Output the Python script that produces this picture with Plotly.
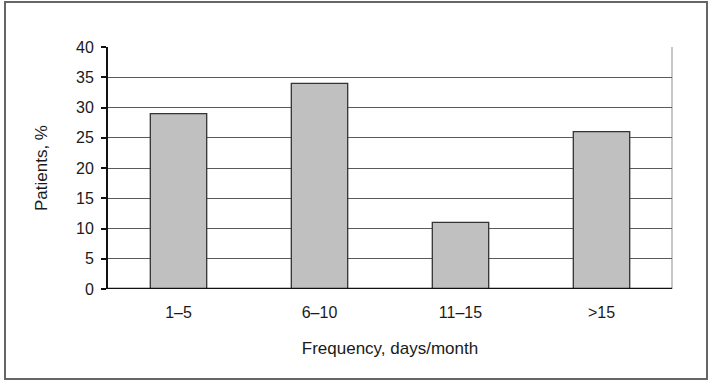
import plotly.graph_objects as go

categories = ["1–5", "6–10", "11–15", ">15"]
patients_pct = [29, 34, 11, 26]
y_ticks = [0, 5, 10, 15, 20, 25, 30, 35, 40]

W, H = 712, 380
L, R, T, B = 108, 40, 47, 91
pw, ph = W - L - R, H - T - B

fig = go.Figure(go.Bar(
    x=categories, y=patients_pct,
    marker=dict(color="#c0c0c0", line=dict(color="#333333", width=1.3)),
))

font = "Liberation Sans, Arial, Helvetica, sans-serif"
fig.update_layout(
    width=W, height=H,
    margin=dict(l=L, r=R, t=T, b=B),
    paper_bgcolor="white", plot_bgcolor="white",
    bargap=0.6,
    showlegend=False,
    font=dict(family=font, size=16, color="#1a1a1a"),
    xaxis=dict(
        showgrid=False, ticks="", showline=False,
        tickfont=dict(size=16), ticklabelstandoff=12,
        title=dict(text="Frequency, days/month", font=dict(size=17), standoff=22),
    ),
    yaxis=dict(
        range=[0, 40], tickvals=y_ticks,
        showgrid=True, gridcolor="#5a5a5a", gridwidth=1.3,
        zeroline=False,
        showline=True, linecolor="#111111", linewidth=2,
        ticks="outside", ticklen=5, tickwidth=2, tickcolor="#111111",
        tickfont=dict(size=16), ticklabelstandoff=4,
        title=dict(text="Patients, %", font=dict(size=17), standoff=24),
    ),
    shapes=[
        # baseline at zero
        dict(type="line", xref="paper", yref="y", x0=0, x1=1, y0=0, y1=0,
             line=dict(color="#111111", width=2.5), layer="above"),
        # right plot border
        dict(type="line", xref="paper", yref="paper", x0=1, x1=1, y0=0, y1=1,
             line=dict(color="#aaaaaa", width=1.3), layer="below"),
        # outer frame
        dict(type="rect", xref="paper", yref="paper",
             x0=(5 - L) / pw, x1=(707 - L) / pw,
             y0=(T + ph - 379) / ph, y1=(T + ph - 2) / ph,
             line=dict(color="#666666", width=2)),
    ],
)

fig.write_html("out.html")
